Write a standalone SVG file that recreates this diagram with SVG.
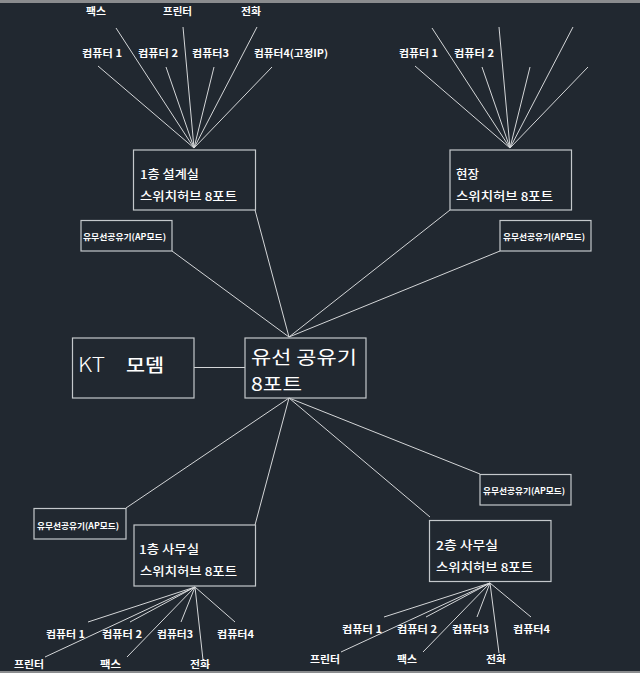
<svg xmlns="http://www.w3.org/2000/svg" width="640" height="673" viewBox="0 0 640 673">
<style>
.box{fill:none;stroke:#c4c8cb;stroke-width:1.2}
.ln{fill:none;stroke:#d4d6d8;stroke-width:1}
text{font-family:"Noto Sans CJK KR","DejaVu Sans",sans-serif;fill:#fff;dominant-baseline:alphabetic}
.s{font-size:10px;font-weight:700}
.m{font-size:12px;font-weight:500}
.a{font-size:8.5px;font-weight:700}
.l{font-size:18.500px;font-weight:400}
</style>
<rect width="640" height="673" fill="#212830"/>
<rect width="640" height="3" fill="#8a8c8e"/>
<rect y="671" width="640" height="2" fill="#8a8c8e"/>
<g id="connectors" class="ln">
<path d="M194 148L98 66M194 148L116 28M194 148L166 67M194 148L183 27M194 148L214 67M194 148L257 27M194 148L272 67"/>
<path d="M510 148L415 66M510 148L432 28M510 148L482 67M510 148L499 27M510 148L530 67M510 148L573 27M510 148L588 67"/>
<path d="M289 337L255 210M289 337L450 210M289 337L172 251M289 337L500 251"/>
<path d="M194 367.500H245"/>
<path d="M289 398L126 508M289 398L255 525M289 398L430 517M289 398L480 474"/>
<path d="M195 587L88 622M195 587L130 622M195 587L45 657M195 587L181 622M195 587L127 657M195 587L203 660M195 587L235 622"/>
<path d="M490 583L384 617M490 583L426 617M490 583L341 652M490 583L477 617M490 583L423 652M490 583L499 653M490 583L531 617"/>
</g>
<g id="top-left-labels" class="s">
<text x="86" y="15" textLength="20" lengthAdjust="spacingAndGlyphs">팩스</text>
<text x="163" y="15" textLength="29" lengthAdjust="spacingAndGlyphs">프린터</text>
<text x="241" y="15" textLength="20" lengthAdjust="spacingAndGlyphs">전화</text>
<text x="82" y="57" textLength="40" lengthAdjust="spacingAndGlyphs">컴퓨터 1</text>
<text x="138" y="57" textLength="40" lengthAdjust="spacingAndGlyphs">컴퓨터 2</text>
<text x="192" y="57" textLength="37" lengthAdjust="spacingAndGlyphs">컴퓨터3</text>
<text x="254" y="57" textLength="74" lengthAdjust="spacingAndGlyphs">컴퓨터4(고정IP)</text>
</g>
<g id="top-right-labels" class="s">
<text x="399" y="57" textLength="39" lengthAdjust="spacingAndGlyphs">컴퓨터 1</text>
<text x="454" y="57" textLength="40" lengthAdjust="spacingAndGlyphs">컴퓨터 2</text>
</g>
<g id="hub-design">
<rect class="box" x="133.500" y="150" width="122" height="60"/>
<text class="m" x="140" y="179" textLength="59" lengthAdjust="spacingAndGlyphs">1층 설계실</text>
<text class="m" x="140" y="201" textLength="97" lengthAdjust="spacingAndGlyphs">스위치허브 8포트</text>
</g>
<g id="hub-site">
<rect class="box" x="450" y="150" width="121.500" height="60"/>
<text class="m" x="456" y="179" textLength="23" lengthAdjust="spacingAndGlyphs">현장</text>
<text class="m" x="456" y="201" textLength="97" lengthAdjust="spacingAndGlyphs">스위치허브 8포트</text>
</g>
<g id="ap-top-left">
<rect class="box" x="81" y="220.500" width="91" height="30.500"/>
<text class="a" x="83" y="240" textLength="83" lengthAdjust="spacingAndGlyphs">유무선공유기(AP모드)</text>
</g>
<g id="ap-top-right">
<rect class="box" x="500" y="220.500" width="91" height="30.500"/>
<text class="a" x="503" y="240" textLength="82" lengthAdjust="spacingAndGlyphs">유무선공유기(AP모드)</text>
</g>
<g id="modem">
<rect class="box" x="72.500" y="338" width="121.500" height="60"/>
<text class="l" x="78" y="372" textLength="27" lengthAdjust="spacingAndGlyphs" style="font-size:20px;font-weight:300">KT</text>
<text class="l" x="126" y="372" textLength="38" lengthAdjust="spacingAndGlyphs" style="font-size:18px;font-weight:500">모뎀</text>
</g>
<g id="router">
<rect class="box" x="245" y="338" width="121" height="60"/>
<text class="l" x="251" y="363.500" textLength="106" lengthAdjust="spacingAndGlyphs">유선 공유기</text>
<text class="l" x="251" y="390.500" textLength="51" lengthAdjust="spacingAndGlyphs">8포트</text>
</g>
<g id="ap-bottom-left">
<rect class="box" x="34" y="508.500" width="92" height="30.500"/>
<text class="a" x="37" y="529" textLength="82" lengthAdjust="spacingAndGlyphs">유무선공유기(AP모드)</text>
</g>
<g id="ap-bottom-right">
<rect class="box" x="480" y="474.500" width="91" height="30.500"/>
<text class="a" x="483" y="494" textLength="82" lengthAdjust="spacingAndGlyphs">유무선공유기(AP모드)</text>
</g>
<g id="hub-office-1">
<rect class="box" x="134" y="525" width="121.500" height="61"/>
<text class="m" x="139" y="554" textLength="60" lengthAdjust="spacingAndGlyphs">1층 사무실</text>
<text class="m" x="140" y="576" textLength="97" lengthAdjust="spacingAndGlyphs">스위치허브 8포트</text>
</g>
<g id="hub-office-2">
<rect class="box" x="429.500" y="520.500" width="121.500" height="61"/>
<text class="m" x="436" y="550" textLength="62" lengthAdjust="spacingAndGlyphs">2층 사무실</text>
<text class="m" x="436" y="572" textLength="97" lengthAdjust="spacingAndGlyphs">스위치허브 8포트</text>
</g>
<g id="bottom-left-labels" class="s">
<text x="46" y="638" textLength="39" lengthAdjust="spacingAndGlyphs">컴퓨터 1</text>
<text x="102" y="638" textLength="40" lengthAdjust="spacingAndGlyphs">컴퓨터 2</text>
<text x="157" y="638" textLength="36" lengthAdjust="spacingAndGlyphs">컴퓨터3</text>
<text x="217" y="638" textLength="37" lengthAdjust="spacingAndGlyphs">컴퓨터4</text>
<text x="14" y="668" textLength="30" lengthAdjust="spacingAndGlyphs">프린터</text>
<text x="100" y="668" textLength="21" lengthAdjust="spacingAndGlyphs">팩스</text>
<text x="190" y="668" textLength="20" lengthAdjust="spacingAndGlyphs">전화</text>
</g>
<g id="bottom-right-labels" class="s">
<text x="342" y="633" textLength="40" lengthAdjust="spacingAndGlyphs">컴퓨터 1</text>
<text x="397" y="633" textLength="40" lengthAdjust="spacingAndGlyphs">컴퓨터 2</text>
<text x="452" y="633" textLength="37" lengthAdjust="spacingAndGlyphs">컴퓨터3</text>
<text x="513" y="633" textLength="37" lengthAdjust="spacingAndGlyphs">컴퓨터4</text>
<text x="310" y="663" textLength="30" lengthAdjust="spacingAndGlyphs">프린터</text>
<text x="397" y="663" textLength="20" lengthAdjust="spacingAndGlyphs">팩스</text>
<text x="486" y="663" textLength="20" lengthAdjust="spacingAndGlyphs">전화</text>
</g>
</svg>
